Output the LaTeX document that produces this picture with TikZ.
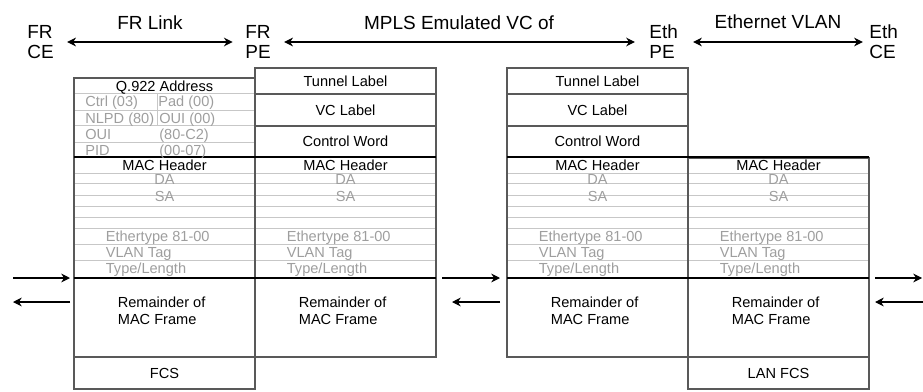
\documentclass[tikz,border=0pt]{standalone}
\usepackage{fontspec}
\setmainfont{Liberation Sans}
\usetikzlibrary{arrows.meta}

\begin{document}
\begin{tikzpicture}[x=0.02cm,y=-0.02cm,
    toplabel/.style={font=\fontsize{10.8}{11.5}\selectfont,align=left,inner sep=0pt},
    fieldtext/.style={font=\fontsize{8.3}{9.5}\selectfont,inner sep=0pt,text height=7pt,text depth=1pt},
    greytext/.style={fieldtext,text=black!38,anchor=west},
    colbox/.style={draw=black!65,line width=0.6pt},
    sepline/.style={draw=black,line width=0.7pt},
    greyline/.style={draw=black!22,line width=0.5pt},
    linkarrow/.style={{Stealth[length=5pt,width=5pt]}-{Stealth[length=5pt,width=5pt]},line width=0.6pt},
    sidearrow/.style={-{Stealth[length=5pt,width=5pt]},line width=0.6pt}]
                \useasboundingbox (0,0) rectangle (923,392);

                % end points along the top
                \node[toplabel,anchor=west] (frce) at (27,42) {FR\\CE};
                \node[toplabel,anchor=west] (frpe) at (245,42) {FR\\PE};
                \node[toplabel,anchor=west] (ethpe) at (649,42) {Eth\\PE};
                \node[toplabel,anchor=west] (ethce) at (869,42) {Eth\\CE};

                \node[toplabel] (frlink) at (150,23) {FR Link};
                \node[toplabel] (mpls) at (459,23) {MPLS Emulated VC of};
                \node[toplabel] (ethvlan) at (778,22) {Ethernet VLAN};

                \draw[linkarrow,shorten <=7.5pt,shorten >=7pt] (frce) -- (frpe);
                \draw[linkarrow,shorten <=7.5pt,shorten >=8pt] (frpe) -- (ethpe);
                \draw[linkarrow,shorten <=8.5pt,shorten >=3.5pt] (ethpe) -- (ethce);

                % frame columns
                \draw[greyline] (74,93) -- (255,93) (74,110) -- (255,110)
                    (74,125) -- (255,125) (74,142) -- (255,142) (157,93) -- (157,125);
                \draw[greyline] (74,173) -- (436,173) (74,183) -- (436,183)
                    (74,195) -- (436,195) (74,206) -- (436,206) (74,217) -- (436,217)
                    (74,228) -- (436,228) (74,244) -- (436,244) (74,260) -- (436,260);
                \draw[greyline] (507,173) -- (869,173) (507,183) -- (869,183)
                    (507,195) -- (869,195) (507,206) -- (869,206) (507,217) -- (869,217)
                    (507,228) -- (869,228) (507,244) -- (869,244) (507,260) -- (869,260);

                \draw[colbox] (74,78) rectangle (255,389);
                \draw[colbox] (255,68) rectangle (436,357);
                \draw[colbox] (507,68) rectangle (688,357);
                \draw[colbox] (688,158) rectangle (869,389);
                \draw[colbox] (255,94) -- (436,94) (255,126) -- (436,126)
                    (507,94) -- (688,94) (507,126) -- (688,126)
                    (74,357) -- (255,357) (688,357) -- (869,357);
                \draw[sepline] (74,157) -- (436,157) (507,157) -- (869,157)
                    (74,278) -- (436,278) (507,278) -- (869,278);

                % FR header
                \node[fieldtext] (q922) at (164.5,86) {Q.922 Address};
                \node[greytext] (ctrl) at (85,101) {Ctrl (03)};
                \node[greytext] (pad) at (158,101) {Pad (00)};
                \node[greytext] (nlpd) at (85,118) {NLPD (80)};
                \node[greytext] (ouia) at (159,118) {OUI (00)};
                \node[greytext] (ouib) at (85,134) {OUI};
                \node[greytext] (ouival) at (159,134) {(80-C2)};
                \node[greytext] (pid) at (85,150) {PID};
                \node[greytext] (pidval) at (159,150) {(00-07)};

                % MPLS labels
                \node[fieldtext] (tunnel-pw) at (345.5,81) {Tunnel Label};
                \node[fieldtext] (vc-pw) at (345.5,110) {VC Label};
                \node[fieldtext] (cw-pw) at (345.5,141) {Control Word};
                \node[fieldtext] (tunnel-pe) at (597.5,81) {Tunnel Label};
                \node[fieldtext] (vc-pe) at (597.5,110) {VC Label};
                \node[fieldtext] (cw-pe) at (597.5,141) {Control Word};

                % Ethernet frame, same in every column
                \foreach \cx/\n in {164.5/fr,345.5/pw,597.5/pe,778.5/eth}{
                    \node[fieldtext] (mac-\n) at (\cx,165) {MAC Header};
                    \node[fieldtext,text=black!38] (da-\n) at (\cx,179) {DA};
                    \node[fieldtext,text=black!38] (sa-\n) at (\cx,196) {SA};
                    \node[greytext] (etype-\n) at (\cx-59,236) {Ethertype 81-00};
                    \node[greytext] (vlan-\n) at (\cx-59,252) {VLAN Tag};
                    \node[greytext] (type-\n) at (\cx-59,268) {Type/Length};
                    \node[fieldtext,text height=,text depth=,align=left,anchor=west] (rest-\n) at (\cx-47,311) {Remainder of\\MAC Frame};
                }

                \node[fieldtext] (fcs) at (164.5,373) {FCS};
                \node[fieldtext] (lanfcs) at (778.5,373) {LAN FCS};

                % traffic in and out
                \coordinate (frinA) at (13,278);   \coordinate (frinB) at (70,278);
                \coordinate (froutA) at (70,302);  \coordinate (froutB) at (13,302);
                \coordinate (pwinA) at (442,278);  \coordinate (pwinB) at (500,278);
                \coordinate (pwoutA) at (500,302); \coordinate (pwoutB) at (452,302);
                \coordinate (ethinA) at (875,278); \coordinate (ethinB) at (922,278);
                \coordinate (ethoutA) at (923,302); \coordinate (ethoutB) at (875,302);
                \draw[sidearrow] (frinA) -- (frinB);
                \draw[sidearrow] (froutA) -- (froutB);
                \draw[sidearrow] (pwinA) -- (pwinB);
                \draw[sidearrow] (pwoutA) -- (pwoutB);
                \draw[sidearrow] (ethinA) -- (ethinB);
                \draw[sidearrow] (ethoutA) -- (ethoutB);

            \end{tikzpicture}
\end{document}
